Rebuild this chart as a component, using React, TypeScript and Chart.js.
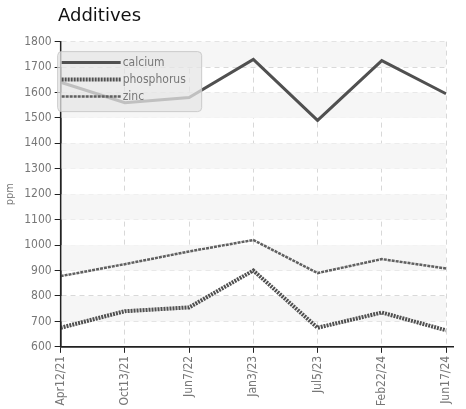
import { useEffect, useRef } from "react";
import { Chart, registerables } from "chart.js";

Chart.register(...registerables);

const dates = ["Apr12/21", "Oct13/21", "Jun7/22", "Jan3/23", "Jul5/23", "Feb22/24", "Jun17/24"];
const calcium = [1640, 1560, 1580, 1730, 1490, 1725, 1595];
const phosphorus = [675, 740, 755, 900, 675, 735, 665];
const zinc = [878, 925, 975, 1020, 890, 945, 908];

const bands = {
  id: "bands",
  beforeDatasetsDraw(chart: Chart) {
    const { ctx, chartArea, scales } = chart;
    const y = scales.y;
    ctx.save();
    ctx.fillStyle = "#f6f6f6";
    for (let v = 700; v < 1800; v += 200) {
      const top = y.getPixelForValue(v + 100);
      const bot = y.getPixelForValue(v);
      ctx.fillRect(chartArea.left, top, chartArea.right - chartArea.left, bot - top);
    }
    ctx.restore();
  },
};

const legendBox = {
  id: "legendBox",
  afterDatasetsDraw(chart: Chart) {
    const { ctx, chartArea } = chart;
    // solid axis lines
    ctx.save();
    ctx.strokeStyle = "#222";
    ctx.lineWidth = 1.5;
    ctx.beginPath();
    ctx.moveTo(chartArea.left, chartArea.top);
    ctx.lineTo(chartArea.left, chartArea.bottom);
    ctx.lineTo(chartArea.right + 8, chartArea.bottom);
    ctx.stroke();
    ctx.restore();

    const x = chartArea.left - 3;
    const y = chartArea.top + 10;
    ctx.save();
    ctx.fillStyle = "rgba(230,230,230,0.75)";
    ctx.strokeStyle = "rgba(200,200,200,0.9)";
    ctx.beginPath();
    ctx.roundRect(x, y, 144, 60, 4);
    ctx.fill();
    ctx.stroke();
    ctx.font = "12px 'DejaVu Sans Condensed', 'Liberation Sans Narrow', sans-serif";
    ctx.textBaseline = "middle";
    chart.data.datasets.forEach((ds: any, i: number) => {
      const ly = y + 11 + i * 17;
      ctx.strokeStyle = ds.borderColor;
      ctx.lineWidth = ds.borderWidth;
      ctx.setLineDash(ds.borderDash || []);
      ctx.beginPath();
      ctx.moveTo(x + 4, ly);
      ctx.lineTo(x + 63, ly);
      ctx.stroke();
      ctx.fillStyle = "#777";
      ctx.fillText(ds.label, x + 65, ly);
    });
    ctx.restore();
  },
};

export default function App() {
  const canvasRef = useRef<HTMLCanvasElement>(null);
  const chartRef = useRef<Chart | null>(null);

  useEffect(() => {
    if (!canvasRef.current) return;
    chartRef.current?.destroy();
    const tickFont = { family: "'DejaVu Sans Condensed', 'Liberation Sans Narrow', sans-serif", size: 12 };
    chartRef.current = new Chart(canvasRef.current, {
      type: "line",
      data: {
        labels: dates,
        datasets: [
          { label: "calcium", data: calcium, borderColor: "#505050", borderWidth: 3, pointRadius: 0, tension: 0 },
          { label: "phosphorus", data: phosphorus, borderColor: "#505050", borderWidth: 4, borderDash: [2, 1], pointRadius: 0, tension: 0 },
          { label: "zinc", data: zinc, borderColor: "#606060", borderWidth: 2.5, borderDash: [3, 1], pointRadius: 0, tension: 0 },
        ],
      },
      options: {
        animation: false,
        responsive: true,
        maintainAspectRatio: false,
        layout: { padding: { left: 0, right: 20, top: 0, bottom: 0 } },
        plugins: {
          legend: { display: false },
          tooltip: { enabled: false },
          title: {
            display: true,
            text: "Additives",
            align: "start",
            color: "#111",
            font: { family: "'DejaVu Sans', sans-serif", size: 18, weight: "normal" },
            padding: { top: 6, bottom: 14 },
          },
        },
        scales: {
          x: {
            grid: { color: "#d8d8d8", tickLength: 6, tickColor: "#222" },
            border: { color: "#222", width: 1.5, dash: [5, 4] },
            ticks: { color: "#777", font: tickFont, maxRotation: 90, minRotation: 90 },
          },
          y: {
            min: 600,
            max: 1800,
            grid: { color: "#d8d8d8", tickLength: 6, tickColor: "#222" },
            border: { color: "#222", width: 1.5, dash: [5, 4] },
            ticks: { stepSize: 100, color: "#777", font: tickFont, callback: (v: any) => String(v) },
            title: { display: true, text: "ppm", color: "#777", font: { ...tickFont, size: 11 } },
          },
        },
      },
      plugins: [
        bands,
        legendBox,
        {
          id: "titleShift",
          afterLayout(chart: any) {
            const t = chart.titleBlock;
            if (t) t.left = 58;
          },
        },
      ],
    });
    return () => {
      chartRef.current?.destroy();
      chartRef.current = null;
    };
  }, []);

  return (
    <div style={{ position: "fixed", left: 0, top: 0, width: 466, height: 409, background: "#fff" }}>
      <canvas ref={canvasRef} />
    </div>
  );
}
